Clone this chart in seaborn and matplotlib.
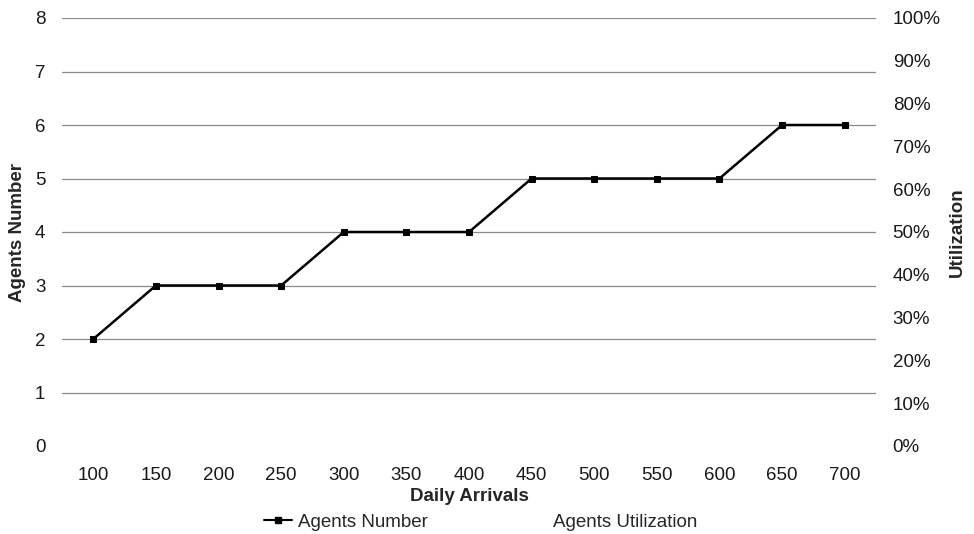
import matplotlib
matplotlib.use("Agg")
import matplotlib.pyplot as plt
from matplotlib.lines import Line2D
from matplotlib.ticker import PercentFormatter
import seaborn as sns
import pandas as pd

daily_arrivals = [100, 150, 200, 250, 300, 350, 400, 450, 500, 550, 600, 650, 700]
agents_number = [2, 3, 3, 3, 4, 4, 4, 5, 5, 5, 5, 6, 6]
left_ticks = [0, 1, 2, 3, 4, 5, 6, 7, 8]
right_ticks = [0, 0.1, 0.2, 0.3, 0.4, 0.5, 0.6, 0.7, 0.8, 0.9, 1.0]

sns.set_style("white")
plt.rcParams["font.family"] = ["Liberation Sans", "DejaVu Sans"]

FS = 13.5
df = pd.DataFrame({"Daily Arrivals": daily_arrivals, "Agents Number": agents_number})

fig = plt.figure(figsize=(9.74, 5.34), dpi=100)
ax = fig.add_axes([62 / 974, 1 - 446 / 534, (876 - 62) / 974, (446 - 18) / 534])

ax.set_ylim(0, 8)
ax.set_xlim(75, 725)
ax.set_yticks(left_ticks)
for t in left_ticks[1:]:
    ax.axhline(t, color="#8a8a8a", lw=0.9, zorder=0)

sns.lineplot(data=df, x="Daily Arrivals", y="Agents Number", ax=ax, color="black",
             lw=1.8, marker="s", markersize=5, markeredgecolor="black", zorder=3,
             legend=False)

ax.set_xticks(daily_arrivals)
ax.set_xticklabels([str(v) for v in daily_arrivals])
ax.tick_params(axis="x", length=0, pad=15, labelsize=FS, labelcolor="#1a1a1a")
ax.tick_params(axis="y", length=0, pad=12, labelsize=FS, labelcolor="#1a1a1a")
ax.set_xlabel("Daily Arrivals", fontsize=FS, fontweight="bold", labelpad=3)
ax.set_ylabel("Agents Number", fontsize=FS, fontweight="bold", labelpad=6)
for s in ax.spines.values():
    s.set_visible(False)

ax2 = ax.twinx()
ax2.set_ylim(0, 1)
ax2.set_yticks(right_ticks)
ax2.yaxis.set_major_formatter(PercentFormatter(1.0, decimals=0))
ax2.tick_params(axis="y", length=0, pad=12, labelsize=FS, labelcolor="#1a1a1a")
ax2.set_ylabel("Utilization", fontsize=FS, fontweight="bold", labelpad=6)
for s in ax2.spines.values():
    s.set_visible(False)

handles = [
    Line2D([], [], color="black", lw=1.5, marker="s", markersize=4),
    Line2D([], [], color="white", lw=0),
]
fig.legend(handles, ["Agents Number", "Agents Utilization"], loc="center",
           bbox_to_anchor=(481 / 974, 1 - 522 / 534), ncol=2, frameon=False,
           fontsize=FS, handlelength=1.5, handletextpad=0.3, columnspacing=4.9,
           borderpad=0.1)

fig.savefig("out.png", dpi=100)
